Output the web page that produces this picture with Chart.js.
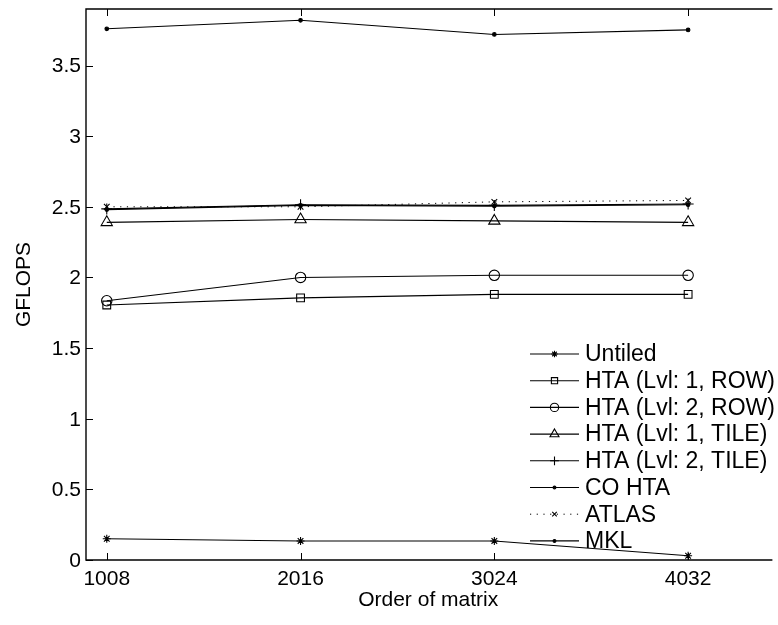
<!DOCTYPE html>
<html>
<head>
<meta charset="utf-8">
<script src="https://cdn.jsdelivr.net/npm/chart.js@4/dist/chart.umd.min.js"></script>
<style>
  html, body { margin: 0; padding: 0; background: #fff; }
  #wrap { width: 778px; height: 625px; }
</style>
</head>
<body>
<div id="wrap"><canvas id="c" width="778" height="625"></canvas></div>
<script>
// ---- data ----
const matrixOrders = [1008, 2016, 3024, 4032];
const untiled   = [0.150, 0.135, 0.135, 0.030];
const htaL1Row  = [1.805, 1.855, 1.880, 1.880];
const htaL2Row  = [1.835, 2.000, 2.015, 2.015];
const htaL1Tile = [2.390, 2.410, 2.400, 2.390];
const htaL2Tile = [2.485, 2.515, 2.510, 2.520];
const coHta     = [2.480, 2.510, 2.505, 2.515];
const atlas     = [2.500, 2.500, 2.535, 2.545];
const mkl       = [3.760, 3.820, 3.720, 3.752];
const xTicks = [1008, 2016, 3024, 4032];
const yTicks = [0, 0.5, 1, 1.5, 2, 2.5, 3, 3.5];
const yTickLabels = ['0', '0.5', '1', '1.5', '2', '2.5', '3', '3.5'];
const seriesNames = ['Untiled', 'HTA (Lvl: 1, ROW)', 'HTA (Lvl: 2, ROW)', 'HTA (Lvl: 1, TILE)',
                     'HTA (Lvl: 2, TILE)', 'CO HTA', 'ATLAS', 'MKL'];

const FONT = '"Liberation Sans", Arial, Helvetica, sans-serif';
const pts = arr => arr.map((v, i) => ({ x: matrixOrders[i], y: v }));

function ds(label, arr, style, radius, extra) {
  return Object.assign({
    label: label,
    data: pts(arr),
    borderColor: '#000',
    borderWidth: 1.1,
    pointStyle: style,
    pointRadius: radius,
    pointHoverRadius: radius,
    pointBorderColor: '#000',
    pointBackgroundColor: 'rgba(0,0,0,0)',
    pointBorderWidth: 1.1,
    tension: 0,
    fill: false
  }, extra || {});
}

const datasets = [
  ds(seriesNames[0], untiled, 'star', 4),
  ds(seriesNames[1], htaL1Row, 'rect', 5.5),
  ds(seriesNames[2], htaL2Row, 'circle', 5.2),
  ds(seriesNames[3], htaL1Tile, 'triangle', 6.5),
  ds(seriesNames[4], htaL2Tile, 'cross', 5.5),
  ds(seriesNames[5], coHta, 'circle', 1.8, { pointBackgroundColor: '#000' }),
  ds(seriesNames[6], atlas, 'crossRot', 4, { borderDash: [1.2, 5.5], borderWidth: 1 }),
  ds(seriesNames[7], mkl, 'circle', 1.8, { pointBackgroundColor: '#000' })
];

const decorPlugin = {
  id: 'decor',
  afterDatasetsDraw(chart) {
    const ctx = chart.ctx;
    const a = chart.chartArea;
    const xs = chart.scales.x, ys = chart.scales.y;
    ctx.save();
    // frame
    ctx.strokeStyle = '#000';
    ctx.lineWidth = 1.4;
    ctx.beginPath();
    ctx.moveTo(a.right + 2, a.top);
    ctx.lineTo(a.left, a.top);
    ctx.lineTo(a.left, a.bottom);
    ctx.lineTo(a.right + 2, a.bottom);
    ctx.stroke();
    // inward ticks
    ctx.lineWidth = 1;
    const tl = 7;
    ctx.beginPath();
    xTicks.forEach(v => {
      const px = Math.round(xs.getPixelForValue(v)) + 0.5;
      ctx.moveTo(px, a.bottom); ctx.lineTo(px, a.bottom - tl);
      ctx.moveTo(px, a.top); ctx.lineTo(px, a.top + tl);
    });
    yTicks.forEach(v => {
      const py = Math.round(ys.getPixelForValue(v)) + 0.5;
      ctx.moveTo(a.left, py); ctx.lineTo(a.left + tl, py);
    });
    ctx.stroke();
    // tick labels
    ctx.fillStyle = '#000';
    ctx.font = '21px ' + FONT;
    ctx.textAlign = 'center';
    ctx.textBaseline = 'middle';
    xTicks.forEach(v => {
      ctx.fillText(String(v), xs.getPixelForValue(v), a.bottom + 19);
    });
    ctx.textAlign = 'right';
    yTicks.forEach((v, i) => {
      ctx.fillText(yTickLabels[i], a.left - 5, ys.getPixelForValue(v) + 1);
    });
    // axis titles
    ctx.textAlign = 'center';
    ctx.fillText('Order of matrix', (a.left + a.right) / 2, a.bottom + 40);
    ctx.save();
    ctx.translate(24, (a.top + a.bottom) / 2);
    ctx.rotate(-Math.PI / 2);
    ctx.fillText('GFLOPS', 0, 0);
    ctx.restore();
    // legend
    const lx0 = 530, lx1 = 579, tx = 585, ly0 = 354, dy = 26.7;
    ctx.font = '23px ' + FONT;
    ctx.textAlign = 'left';
    chart.data.datasets.forEach((d, i) => {
      const y = ly0 + i * dy;
      ctx.save();
      ctx.strokeStyle = '#000';
      ctx.lineWidth = d.borderWidth;
      ctx.setLineDash(d.borderDash || []);
      ctx.beginPath();
      ctx.moveTo(lx0, y); ctx.lineTo(lx1, y);
      ctx.stroke();
      ctx.setLineDash([]);
      ctx.fillStyle = d.pointBackgroundColor;
      ctx.lineWidth = d.pointBorderWidth;
      Chart.helpers.drawPoint(ctx, {
        pointStyle: d.pointStyle, radius: d.pointRadius * 0.8, rotation: 0, borderWidth: d.pointBorderWidth
      }, (lx0 + lx1) / 2, y);
      ctx.restore();
      ctx.fillStyle = '#000';
      ctx.fillText(d.label, tx, y + 1);
    });
    ctx.restore();
  }
};

new Chart(document.getElementById('c'), {
  type: 'line',
  data: { datasets: datasets },
  options: {
    responsive: false,
    animation: false,
    layout: { padding: { left: 78, top: 9, right: 0, bottom: 57 } },
    plugins: { legend: { display: false }, tooltip: { enabled: false } },
    scales: {
      x: {
        type: 'linear', min: 900, max: 4460,
        ticks: { display: false }, grid: { display: false }, border: { display: false }
      },
      y: {
        type: 'linear', min: 0, max: 3.9,
        ticks: { display: false }, grid: { display: false }, border: { display: false }
      }
    }
  },
  plugins: [decorPlugin]
});
</script>
</body>
</html>
